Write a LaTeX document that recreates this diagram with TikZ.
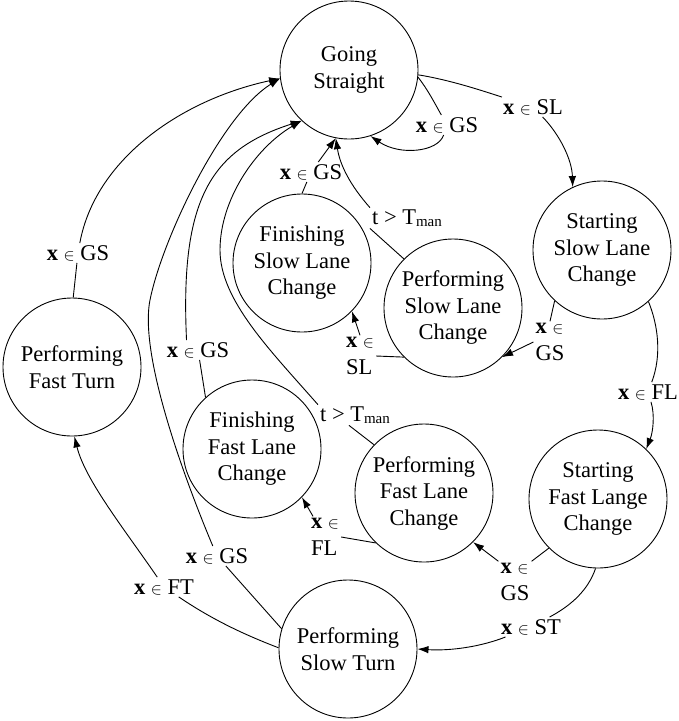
\documentclass[tikz,border=0pt]{standalone}
\usepackage{fontspec}
\setmainfont{Liberation Serif}
\usetikzlibrary{arrows.meta}
\newcommand\lblsize{\fontsize{22.5}{26.5}\selectfont}
\newcommand\xin{\textbf{x} \scalebox{0.8}{$\in$}}
\newcommand\tman{t > T\raisebox{-1.5pt}{\fontsize{15}{15}\selectfont man}}
\begin{document}
\begin{tikzpicture}[x=1pt,y=-1pt,
  every node/.style={font=\lblsize},
  state/.style={draw,circle,line width=0.9pt,minimum size=138pt,inner sep=0pt,align=center},
  lbl/.style={inner sep=2pt,align=left},
  link/.style={line width=0.9pt},
  flow/.style={link,-{Latex[length=11pt,width=7.5pt]}}]
\fill[white] (0,0) rectangle (679,721);
\useasboundingbox (0,0) rectangle (679,721);

% states
\node[state] (gs)   at (349,70)  {Going\\Straight};
\node[state] (sslc) at (602,250) {Starting\\Slow Lane\\Change};
\node[state] (pslc) at (453,308) {Performing\\Slow Lane\\Change};
\node[state] (fslc) at (302,263) {Finishing\\Slow Lane\\Change};
\node[state] (pft)  at (72,367)  {Performing\\Fast Turn};
\node[state] (fflc) at (252,449) {Finishing\\Fast Lane\\Change};
\node[state] (pflc) at (424,493) {Performing\\Fast Lane\\Change};
\node[state] (sflc) at (598,499) {Starting\\Fast Lange\\Change};
\node[state] (pst)  at (348,649) {Performing\\Slow Turn};

% transition labels
\node[lbl] (l1)  at (533,107) {\xin{} SL};
\node[lbl] (l2)  at (447,125) {\xin{} GS};
\node[lbl] (l3)  at (550,342) {\xin\\GS};
\node[lbl] (l4)  at (648,392) {\xin{} FL};
\node[lbl] (l5)  at (360,356) {\xin\\SL};
\node[lbl] (l6)  at (407,218) {\tman};
\node[lbl] (l7)  at (311,172) {\xin{} GS};
\node[lbl] (l8)  at (78,253)  {\xin{} GS};
\node[lbl] (l9)  at (217,556) {\xin{} GS};
\node[lbl] (l10) at (198,350) {\xin{} GS};
\node[lbl] (l11) at (355,415) {\tman};
\node[lbl] (l12) at (515,582) {\xin\\GS};
\node[lbl] (l13) at (531,627) {\xin{} ST};
\node[lbl] (l14) at (325,537) {\xin\\FL};
\node[lbl] (l15) at (164,587) {\xin{} FT};

% Going Straight -> Starting Slow Lane Change
\draw[link] (gs.-4) .. controls (450,80) and (480,90) .. (l1);
\draw[flow] (l1) .. controls (560,135) and (572,160) .. (sslc.115);
% Going Straight self loop
\draw[link] (gs.-6) .. controls (428,90) and (434,102) .. (l2);
\draw[flow] (l2) .. controls (438,152) and (400,156) .. (gs.-72);
% Starting Slow Lane Change -> Performing Slow Lane Change
\draw[link] (sslc.-133) -- (l3.north);
\draw[flow] (l3.west) -- (pslc.-45);
% Starting Slow Lane Change -> Starting Fast Lange Change
\draw[link] (sslc.-48) .. controls (658,325) and (662,355) .. (l4);
\draw[flow] (l4) .. controls (655,415) and (653,432) .. (sflc.46);
% Performing Slow Lane Change -> Finishing Slow Lane Change
\draw[link] (pslc.-135) -- (l5.east);
\draw[flow] (l5.north) -- (fslc.-44);
% Performing Slow Lane Change -> Going Straight
\draw[link] (pslc.135) -- (l6.south west);
\draw[flow] (l6.north west) .. controls (350,185) and (340,165) .. (gs.-101);
% Finishing Slow Lane Change -> Going Straight
\draw[link] (fslc.90) -- (l7);
\draw[flow] (l7) -- (gs.-101);
% Performing Fast Turn -> Going Straight
\draw[link] (pft.89) -- (l8);
\draw[flow] (l8) .. controls (95,160) and (180,100) .. (gs.-173);
% Performing Slow Turn -> Going Straight
\draw[link] (pst.163) -- (l9);
\draw[flow] (l9) .. controls (193,499) and (138,360) .. (150,300)
  .. controls (162,240) and (221,115) .. (gs.-173);
% Finishing Fast Lane Change -> Going Straight
\draw[link] (fflc.132) -- (l10);
\draw[flow] (l10.139) .. controls (180,200) and (210,150) .. (gs.-133);
% Performing Fast Lane Change -> Going Straight
\draw[link] (pflc.136) -- (l11.-120);
\draw[flow] (l11.north west) .. controls (270,350) and (220,300) .. (220,250)
  .. controls (220,200) and (255,148) .. (gs.-133);
% Starting Fast Lange Change -> Performing Fast Lane Change
\draw[link] (sflc.-135) -- (l12.north east);
\draw[flow] (l12.north west) -- (pflc.-45);
% Starting Fast Lange Change -> Performing Slow Turn
\draw[link] (sflc.-92) .. controls (588,590) and (572,605) .. (l13);
\draw[flow] (l13) .. controls (480,647) and (450,651) .. (pst.0);
% Performing Fast Lane Change -> Finishing Fast Lane Change
\draw[link] (pflc.-134) -- (l14.east);
\draw[flow] (l14) -- (fflc.-44);
% Performing Slow Turn -> Performing Fast Turn
\draw[link] (pst.179) .. controls (240,633) and (210,618) .. (l15);
\draw[flow] (l15) .. controls (125,530) and (85,480) .. (pft.-88);
\end{tikzpicture}
\end{document}
